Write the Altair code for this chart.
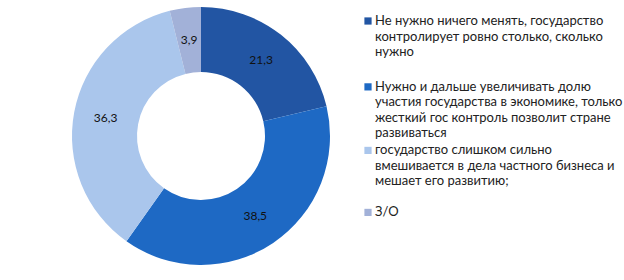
import altair as alt
import pandas as pd

# ---- data ----
categories = [
    "Не нужно ничего менять, государство контролирует ровно столько, сколько нужно",
    "Нужно и дальше увеличивать долю участия государства в экономике, только жесткий гос контроль позволит стране развиваться",
    "государство слишком сильно вмешивается в дела частного бизнеса и мешает его развитию;",
    "З/О",
]
values = [21.3, 38.5, 36.3, 3.9]
value_labels = ["21,3", "38,5", "36,3", "3,9"]
legend_lines = [
    ["Не нужно ничего менять,  государство", "контролирует ровно столько, сколько", "нужно"],
    ["Нужно и дальше увеличивать долю", "участия государства в экономике, только",
     "жесткий гос контроль позволит стране", "развиваться"],
    ["государство слишком  сильно", "вмешивается  в дела частного бизнеса и", "мешает  его развитию;"],
    ["З/О"],
]

# ---- styles / layout ----
colors = ["#2255A3", "#1E69C4", "#AAC6EC", "#A2B1D8"]
item_gaps = [0, 2.25, 1.1, 2.0]   # spacing (in line units) from previous item's last line
FONT = "Lato"

pie_df = pd.DataFrame({
    "cat": categories,
    "value": values,
    "label": value_labels,
    "idx": list(range(len(categories))),
})

rows = []
pos = 0.0
for i, (cat, lines) in enumerate(zip(categories, legend_lines)):
    if i > 0:
        pos += item_gaps[i]
    for j, ln in enumerate(lines):
        if j > 0:
            pos += 1
        rows.append({"cat": cat, "text": ln, "line": pos, "first": j == 0})
leg_df = pd.DataFrame(rows)

color_scale = alt.Scale(domain=categories, range=colors)
CX, CY = 201, 136

base = alt.Chart(pie_df)
theta = alt.Theta("value:Q", stack=True)
arc = base.mark_arc(innerRadius=64, outerRadius=129).encode(
    theta=theta,
    color=alt.Color("cat:N", scale=color_scale, legend=None),
    order=alt.Order("idx:Q"),
    x=alt.value(CX), y=alt.value(CY),
)
txt = base.mark_text(radius=97, fontSize=12, font=FONT, color="#111111").encode(
    theta=theta,
    text="label:N",
    order=alt.Order("idx:Q"),
    x=alt.value(CX), y=alt.value(CY),
)

LINE_H = 15.5
TOP = 21
H = 280
yscale = alt.Scale(domain=[-TOP / LINE_H, (H - TOP) / LINE_H], range=[0, H], zero=False, nice=False)

leg = alt.Chart(leg_df)
squares = leg.transform_filter("datum.first").mark_square(size=52, opacity=1).encode(
    x=alt.value(368),
    y=alt.Y("line:Q", scale=yscale, axis=None),
    color=alt.Color("cat:N", scale=color_scale, legend=None),
)
leg_txt = leg.mark_text(align="left", baseline="middle", fontSize=13, font=FONT, color="#222222").encode(
    x=alt.value(375),
    y=alt.Y("line:Q", scale=yscale, axis=None),
    text="text:N",
)

chart = alt.layer(arc, txt, squares, leg_txt).properties(
    width=624, height=280, padding=0, autosize=alt.AutoSizeParams(type="none")
).configure_view(stroke=None)

chart.save("out.html", embed_options={"renderer": "svg", "actions": False})
